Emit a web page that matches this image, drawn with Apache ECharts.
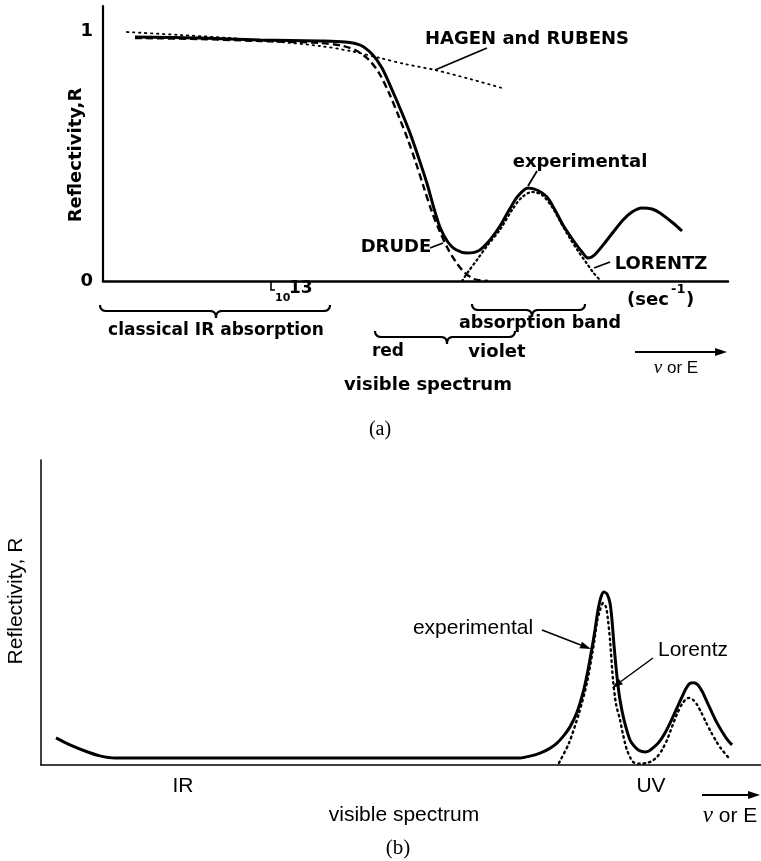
<!DOCTYPE html>
<html><head><meta charset="utf-8">
<script src="https://cdn.jsdelivr.net/npm/echarts@6/dist/echarts.min.js"></script>
<style>html,body{margin:0;padding:0;background:#fff}#c{width:761px;height:861px}</style>
</head><body><div id="c"></div>
<script>
// ---------- Panel (a): frequency (arbitrary units) and reflectivity R ----------
const expA_x   = [32,97,157,217,242,257,269,279,290,299,307,315,324,331,337,345,353,364,375,385,397,407,415,425,435,444,452,460,470,479,485,492,504,520,529,539,549,557,570,579];
const expA_R   = [0.976,0.972,0.964,0.96,0.956,0.944,0.908,0.852,0.756,0.672,0.592,0.5,0.39,0.29,0.215,0.155,0.125,0.112,0.12,0.155,0.22,0.29,0.34,0.372,0.362,0.336,0.284,0.224,0.164,0.116,0.092,0.106,0.164,0.244,0.276,0.292,0.288,0.272,0.232,0.2];
const drudeA_x = [32,97,157,217,240,254,266,276,286,296,305,313,321,329,337,345,353,361,371,385];
const drudeA_R = [0.972,0.968,0.96,0.952,0.94,0.92,0.884,0.832,0.752,0.656,0.564,0.472,0.372,0.276,0.196,0.128,0.076,0.036,0.008,0];
const lorA_x   = [359,365,375,384,397,410,419,429,439,450,459,467,475,483,490,497];
const lorA_R   = [0,0.036,0.09,0.14,0.205,0.29,0.335,0.356,0.344,0.29,0.225,0.17,0.12,0.075,0.035,0.004];
const hrA_x    = [24,77,127,177,217,247,277,302,332,367,399];
const hrA_R    = [0.996,0.984,0.972,0.956,0.94,0.92,0.892,0.868,0.844,0.808,0.772];
const yTicksA  = [0, 1];

// ---------- Panel (b) ----------
const expB_x = [15,29,44,59,74,159,259,359,479,490,499,508,516,523,529,535,539,543,547,551,554,557,560,563,566,569,571,573,576,579,583,589,594,599,604,608,612,618,624,630,636,641,645,649,653,657,662,666,671,676,681,686,691];
const expB_R = [0.089,0.066,0.046,0.03,0.023,0.023,0.023,0.023,0.023,0.03,0.039,0.053,0.072,0.097,0.125,0.165,0.203,0.25,0.311,0.384,0.443,0.508,0.551,0.567,0.561,0.531,0.475,0.393,0.289,0.213,0.148,0.082,0.059,0.046,0.043,0.046,0.056,0.075,0.105,0.144,0.187,0.223,0.251,0.268,0.27,0.262,0.236,0.207,0.172,0.138,0.11,0.085,0.066];
const lorB_x = [518,528,538,546,553,556,559,562,565,567,569,572,575,579,582,586,592,599,606,611,616,621,626,631,636,641,645,648,652,656,660,665,670,675,680,687];
const lorB_R = [0.007,0.072,0.17,0.27,0.40,0.469,0.508,0.531,0.518,0.475,0.41,0.279,0.2,0.148,0.1,0.049,0.01,0.004,0.007,0.013,0.026,0.049,0.082,0.125,0.167,0.2,0.216,0.22,0.214,0.198,0.174,0.14,0.108,0.079,0.054,0.026];

const zip = (xs, ys) => xs.map((x, i) => [x, ys[i]]);

const FA = 'bold 18px "DejaVu Sans"';
const FB = '21px "Liberation Sans"';
function T(txt, x, y, font, o) {
  o = o || {};
  const al = o.align || 'center', va = o.va || 'middle';
  const st = {text: txt, font: font, fill: '#000', align: al, verticalAlign: va, textAlign: al, textVerticalAlign: va};
  if (o.rich) st.rich = o.rich;
  return {type: 'text', x: x, y: y, rotation: o.rot || 0, silent: true, z: 100, style: st};
}
function L(x1, y1, x2, y2, w) {
  return {type: 'line', silent: true, z: 100, shape: {x1, y1, x2, y2}, style: {stroke: '#000', lineWidth: w || 1.5}};
}
function PL(pts, w) {
  return {type: 'polyline', silent: true, z: 100, shape: {points: pts}, style: {stroke: '#000', lineWidth: w || 1.5, fill: null}};
}
function ARROW(x1, y1, x2, y2, w, hl, hw) {
  const dx = x2 - x1, dy = y2 - y1, len = Math.hypot(dx, dy), ux = dx / len, uy = dy / len;
  const bx = x2 - ux * hl, by = y2 - uy * hl;
  return [
    L(x1, y1, bx, by, w),
    {type: 'polygon', silent: true, z: 100, shape: {points: [[x2, y2], [bx - uy * hw, by + ux * hw], [bx + uy * hw, by - ux * hw]]}, style: {fill: '#000'}}
  ];
}
function quad(p0, p1, p2, out) {
  for (let i = 0; i <= 8; i++) {
    const t = i / 8, a = (1 - t) * (1 - t), b = 2 * (1 - t) * t, c = t * t;
    out.push([a * p0[0] + b * p1[0] + c * p2[0], a * p0[1] + b * p1[1] + c * p2[1]]);
  }
}
function BRACE(x1, x2, xc, y) {
  const pts = [];
  quad([x1, y - 6], [x1, y], [x1 + 7, y], pts);
  quad([xc - 6, y], [xc, y], [xc, y + 7], pts);
  quad([xc, y + 7], [xc, y], [xc + 6, y], pts);
  quad([x2 - 7, y], [x2, y], [x2, y - 6], pts);
  return PL(pts, 2.2);
}

const graphics = [
  // panel (a)
  T('Reflectivity,R', 76, 155, FA, {rot: Math.PI / 2}),
  T('HAGEN and RUBENS', 527, 39, FA),
  L(435, 70, 487, 48, 1.8),
  T('experimental', 580, 162, FA),
  L(528, 186, 537, 171, 1.8),
  T('DRUDE', 396, 247, FA),
  L(430, 248, 443, 243, 1.8),
  T('LORENTZ', 661, 264, FA),
  L(594, 268, 610, 262, 1.8),
  T('(sec', 627, 300, FA, {align: 'left'}),
  T('-1', 671, 290, 'bold 13px "DejaVu Sans"', {align: 'left'}),
  T(')', 686, 300, FA, {align: 'left'}),
  PL([[271, 282], [271, 290], [275, 290]], 1.6),
  T('10', 275, 298, 'bold 11px "DejaVu Sans"', {align: 'left'}),
  T('13', 289, 289, 'bold 17px "DejaVu Sans"', {align: 'left'}),
  BRACE(100, 330, 216, 311),
  T('classical IR absorption', 216, 331, 'bold 17px "DejaVu Sans"'),
  BRACE(472, 585, 532, 310),
  T('absorption band', 540, 323, 'bold 17.5px "DejaVu Sans"'),
  BRACE(375, 515, 447, 337),
  T('red', 388, 352, 'bold 17px "DejaVu Sans"'),
  T('violet', 497, 352, FA),
  T('visible spectrum', 428, 385, FA),
  ...ARROW(635, 352, 727, 352, 1.8, 12, 4),
  T('{v|ν} or E', 676, 368, '17px "Liberation Sans"', {rich: {v: {fontFamily: 'Liberation Serif', fontStyle: 'italic', fontSize: 19}}}),
  T('(a)', 380, 430, '20px "Liberation Serif"'),
  // panel (b)
  T('Reflectivity, R', 16, 601, FB, {rot: Math.PI / 2}),
  T('experimental', 473, 628, FB),
  ...ARROW(542, 630, 591, 649, 1.5, 11, 3.5),
  T('Lorentz', 693, 650, FB),
  ...ARROW(653, 658, 612, 688, 1.5, 11, 3.5),
  T('IR', 183, 786, FB),
  T('UV', 651, 786, FB),
  T('visible spectrum', 404, 815, FB),
  ...ARROW(702, 795, 760, 795, 1.8, 12, 4),
  T('{v|ν} or E', 730, 816, FB, {rich: {v: {fontFamily: 'Liberation Serif', fontStyle: 'italic', fontSize: 23}}}),
  T('(b)', 398, 848, '21px "Liberation Serif"')
];

const chart = echarts.init(document.getElementById('c'), null, {renderer: 'canvas'});
chart.setOption({
  animation: false,
  backgroundColor: '#fff',
  grid: [
    {left: 103, top: 6, width: 625, height: 275, outerBoundsMode: 'none'},
    {left: 41, top: 460, width: 720, height: 305, outerBoundsMode: 'none'}
  ],
  xAxis: [
    {gridIndex: 0, type: 'value', min: 0, max: 625, axisLine: {show: true, lineStyle: {color: '#000', width: 2.5}}, axisTick: {show: false}, axisLabel: {show: false}, splitLine: {show: false}},
    {gridIndex: 1, type: 'value', min: 0, max: 720, axisLine: {show: true, lineStyle: {color: '#000', width: 1.5}}, axisTick: {show: false}, axisLabel: {show: false}, splitLine: {show: false}}
  ],
  yAxis: [
    {gridIndex: 0, type: 'value', min: 0, max: 1.1, interval: 1,
     axisLine: {show: true, lineStyle: {color: '#000', width: 2.2}}, axisTick: {show: false}, splitLine: {show: false},
     axisLabel: {show: true, margin: 10, color: '#000', fontFamily: 'DejaVu Sans', fontWeight: 'bold', fontSize: 18,
       formatter: v => (yTicksA.indexOf(v) >= 0 ? String(v) : '')}},
    {gridIndex: 1, type: 'value', min: 0, max: 1,
     axisLine: {show: true, lineStyle: {color: '#000', width: 1.5}}, axisTick: {show: false}, axisLabel: {show: false}, splitLine: {show: false}}
  ],
  series: [
    {name: 'HAGEN and RUBENS', type: 'line', xAxisIndex: 0, yAxisIndex: 0, data: zip(hrA_x, hrA_R), showSymbol: false, smooth: 0.3, z: 2,
     lineStyle: {color: '#000', width: 1.8, type: [1.5, 4.5], cap: 'round'}},
    {name: 'DRUDE', type: 'line', xAxisIndex: 0, yAxisIndex: 0, data: zip(drudeA_x, drudeA_R), showSymbol: false, smooth: 0.3, z: 3,
     lineStyle: {color: '#000', width: 2.4, type: [7, 4]}},
    {name: 'LORENTZ', type: 'line', xAxisIndex: 0, yAxisIndex: 0, data: zip(lorA_x, lorA_R), showSymbol: false, smooth: 0.3, z: 3,
     lineStyle: {color: '#000', width: 2.2, type: [1.5, 3.5], cap: 'round'}},
    {name: 'experimental', type: 'line', xAxisIndex: 0, yAxisIndex: 0, data: zip(expA_x, expA_R), showSymbol: false, smooth: 0.3, z: 4,
     lineStyle: {color: '#000', width: 3}},
    {name: 'Lorentz', type: 'line', xAxisIndex: 1, yAxisIndex: 1, data: zip(lorB_x, lorB_R), showSymbol: false, smooth: 0.25, z: 3,
     lineStyle: {color: '#000', width: 2.4, type: [1.5, 4], cap: 'round'}},
    {name: 'experimental (b)', type: 'line', xAxisIndex: 1, yAxisIndex: 1, data: zip(expB_x, expB_R), showSymbol: false, smooth: 0.25, z: 4,
     lineStyle: {color: '#000', width: 3}}
  ],
  graphic: graphics
});
</script></body></html>
